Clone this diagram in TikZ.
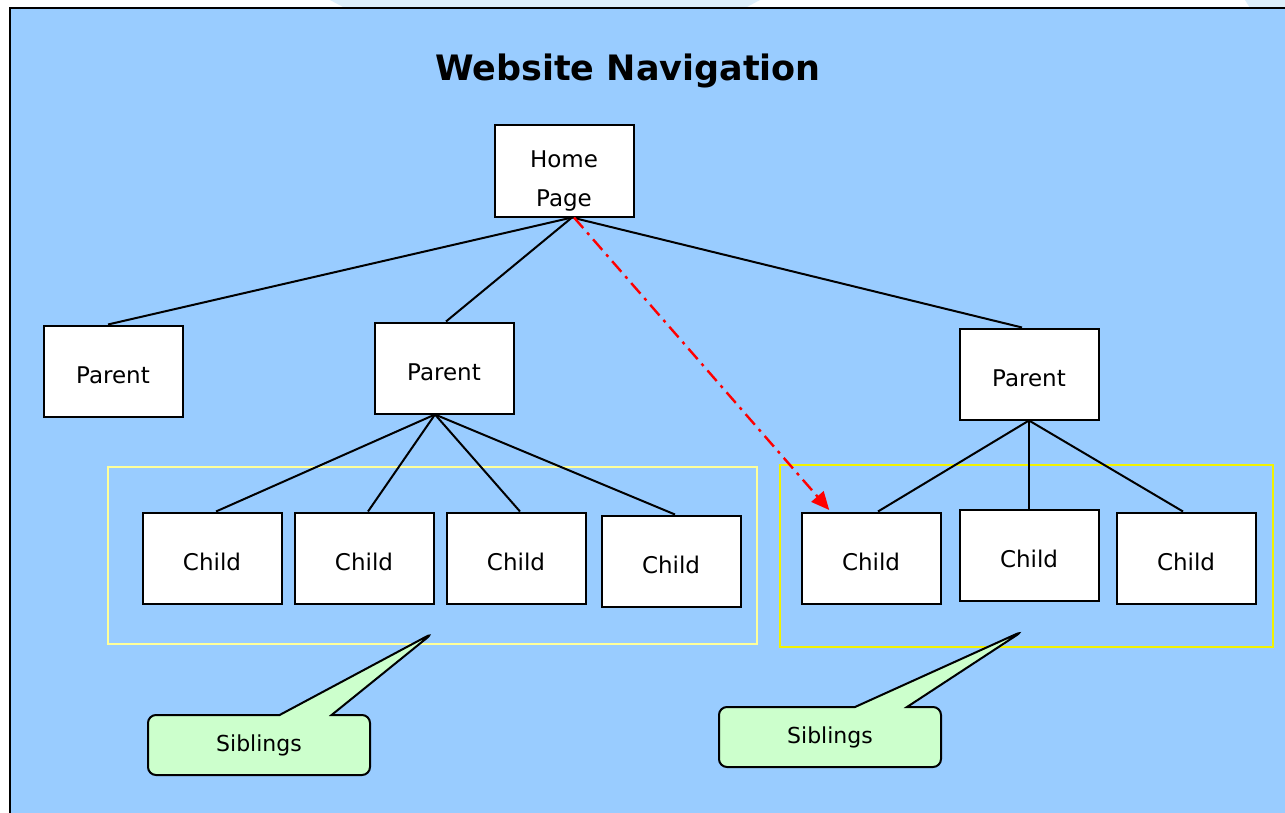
\documentclass[tikz,border=0pt]{standalone}
\usepackage{fontspec}
\setmainfont{DejaVu Sans}
\usetikzlibrary{shapes.callouts,arrows.meta}
\definecolor{skyblue}{HTML}{99CCFF}
\definecolor{paleblue}{HTML}{DCEEFA}
\definecolor{notegreen}{HTML}{CCFFCC}
\definecolor{paleyellow}{HTML}{FFFF99}
\definecolor{brightyellow}{HTML}{F2F200}

\begin{document}
\begin{tikzpicture}[x=0.5pt,y=-0.5pt,-,line width=1pt,
    page node/.style={rectangle,draw,fill=white,minimum width=69.5pt,minimum height=45.5pt,inner sep=0pt,text height=12.5pt,text depth=0pt,font=\fontsize{11.5}{19.5}\selectfont},
    group box/.style={draw=#1,line width=0.8pt},
    siblings note/.style={rectangle callout,draw,fill=notegreen,rounded corners=4pt,minimum width=111pt,minimum height=30pt,callout pointer width=26pt,font=\fontsize{11}{13}\selectfont},
    link/.style={black}]
    \useasboundingbox (0,0) rectangle (1285,813);
    % frame
    \fill[white] (0,0) rectangle (1285,8);
    \fill[paleblue] (330,0) -- (760,0) -- (745,8) -- (345,8) -- cycle;
    \fill[paleblue] (1245,0) -- (1285,0) -- (1285,8) -- (1250,8) -- cycle;
    \fill[skyblue] (10,8) rectangle (1285,813);
    \draw[line width=1.2pt] (10,813) -- (10,8) -- (1285,8);

    \node[font=\fontsize{17.5}{20}\bfseries\selectfont] (title) at (628,71) {Website Navigation};

    % sibling groups
    \draw[group box=paleyellow] (108,467) rectangle (757,644);
    \draw[group box=brightyellow] (780,465) rectangle (1273,647);

    \node[page node,text height=,text depth=] (home) at (564,171)
        {\raisebox{-4pt}[\height][\depth]{\begin{tabular}{@{}c@{}}Home\\Page\end{tabular}}};
    \node[page node] (p1) at (113,371) {Parent};
    \node[page node] (p2) at (444,368) {Parent};
    \node[page node] (p3) at (1029,374) {Parent};

    \node[page node] (c1) at (212,558) {Child};
    \node[page node] (c2) at (364,558) {Child};
    \node[page node] (c3) at (516,558) {Child};
    \node[page node] (c4) at (671,561) {Child};
    \node[page node] (c5) at (871,558) {Child};
    \node[page node] (c6) at (1029,555) {Child};
    \node[page node] (c7) at (1186,558) {Child};

    \path[link]
        ([xshift=4pt]home.south) edge ([xshift=-2.5pt]p1.north)
        ([xshift=4pt]home.south) edge ([xshift=1pt]p2.north)
        ([xshift=4pt]home.south) edge ([xshift=-3.5pt]p3.north)
        ([xshift=-4.5pt]p2.south) edge ([xshift=2pt]c1.north)
        ([xshift=-4.5pt]p2.south) edge ([xshift=2pt]c2.north)
        ([xshift=-4.5pt]p2.south) edge ([xshift=2pt]c3.north)
        ([xshift=-4.5pt]p2.south) edge ([xshift=2pt]c4.north)
        (p3.south) edge ([xshift=3.5pt]c5.north)
        (p3.south) edge (c6.north)
        (p3.south) edge ([xshift=-1.5pt]c7.north)
        ;

    % jump to a child of another parent
    \draw[red,line width=1.2pt,dash pattern=on 7pt off 3pt on 1.5pt off 3pt,shorten >=1pt,-{Triangle[length=9pt,width=8pt]}] ([xshift=5pt]home.south) -- (c5);

    \node[siblings note,callout absolute pointer={(433,633)}] (note1) at (259,745) {Siblings};
    \node[siblings note,callout absolute pointer={(1023,631)}] (note2) at (830,737) {Siblings};
\end{tikzpicture}
\end{document}
